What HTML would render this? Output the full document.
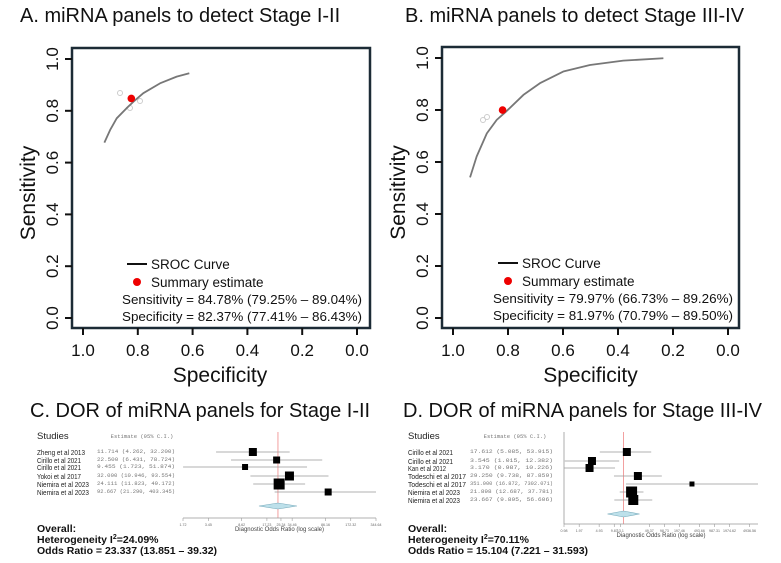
<!DOCTYPE html>
<html><head><meta charset="utf-8"><style>
body{margin:0;background:#fff}
svg{display:block;font-family:"Liberation Sans",sans-serif}
</style></head><body>
<svg id="fig" width="781" height="563" viewBox="0 0 781 563"></svg>
<script>
// ---- Data ----
const rocTicks = [1.0, 0.8, 0.6, 0.4, 0.2, 0.0];
const aSpec = [0.922, 0.901, 0.877, 0.841, 0.816, 0.780, 0.719, 0.658, 0.612];
const aSens = [0.677, 0.726, 0.771, 0.810, 0.835, 0.868, 0.906, 0.932, 0.945];
const aSummary = [0.8237, 0.8478];
const bSpec = [0.938, 0.914, 0.877, 0.841, 0.807, 0.744, 0.684, 0.599, 0.502, 0.381, 0.235];
const bSens = [0.541, 0.621, 0.710, 0.762, 0.794, 0.858, 0.903, 0.948, 0.973, 0.990, 0.999];
const bSummary = [0.8197, 0.7997];
const cStudies = ["Zheng et al 2013","Cirillo et al 2021","Cirillo et al 2021","Yokoi et al 2017","Niemira et al 2023","Niemira et al 2023"];
const cEst = [11.714, 22.5, 9.455, 32.0, 24.111, 92.667];
const cLo = [4.262, 6.431, 1.723, 10.946, 11.823, 21.29];
const cHi = [32.2, 78.724, 51.874, 93.554, 49.172, 403.345];
const cBox = [4, 3.5, 3, 4.5, 5.5, 3.5];
const cPool = [23.337, 13.851, 39.32];
const cTicks = ["1.72","3.45","8.62","17.23","25.34","34.46","86.16","172.32","344.64"];
const dStudies = ["Cirillo et al 2021","Cirillo et al 2021","Kan et al 2012","Todeschi et al 2017","Todeschi et al 2017","Niemira et al 2023","Niemira et al 2023"];
const dEst = [17.612, 3.545, 3.17, 29.25, 351.0, 21.898, 23.667];
const dLo = [5.085, 1.015, 0.987, 9.738, 16.872, 12.687, 9.895];
const dHi = [53.915, 12.382, 10.226, 87.859, 7302.071, 37.781, 56.606];
const dBox = [4, 4, 4, 4, 2.5, 5.5, 5];
const dPool = [15.104, 7.221, 31.593];
const dTicks = ["0.98","1.97","4.93","9.87","13.1","49.37","98.73","197.46","493.66","987.31","1974.62","4936.56"];

const NS="http://www.w3.org/2000/svg", svg=document.getElementById('fig');
function el(tag, attrs, parent, txt){const e=document.createElementNS(NS,tag);for(const k in attrs)e.setAttribute(k,attrs[k]);if(txt!==undefined)e.textContent=txt;(parent||svg).appendChild(e);return e;}

function roc(P){
  const g=el('g',{});
  
  
  const t=el('text',{x:P.tx,y:22,'font-size':20,fill:'#111'},g,P.title);
  
  
  const X=s=>P.x0+(1-s)*(P.x1-P.x0), Y=v=>P.y0-v*(P.y0-P.y1);
  const box=el('rect',{x:P.L,y:P.T,width:P.R-P.L,height:P.B-P.T,fill:'none',stroke:'#1c2b36','stroke-width':2.5},g);
  
  
  rocTicks.forEach(v=>{
    el('line',{x1:X(v),x2:X(v),y1:P.B,y2:P.B+7,stroke:'#111','stroke-width':2},g);
    const xl=el('text',{x:X(v),y:P.B+28,'font-size':17,'text-anchor':'middle',fill:'#111'},g,v.toFixed(1));
    
    
    el('line',{x1:P.L-7,x2:P.L,y1:Y(v),y2:Y(v),stroke:'#111','stroke-width':2},g);
    const yl=el('text',{x:0,y:0,'font-size':17,'text-anchor':'middle',fill:'#111',transform:`translate(${P.L-14},${Y(v)}) rotate(-90)`},g,v.toFixed(1));
    
    
  });
  const xt=el('text',{x:(P.x0+P.x1)/2,y:P.B+54,'font-size':21,'text-anchor':'middle',fill:'#111'},g,'Specificity');
  
  
  const yt=el('text',{x:0,y:0,'font-size':21,'text-anchor':'middle',fill:'#111',transform:`translate(${P.L-37},${(P.T+P.B)/2+5}) rotate(-90)`},g,'Sensitivity');
  
  
  P.ghost.forEach(p=>el('circle',{cx:p[0],cy:p[1],r:2.5,fill:'none',stroke:'#ccc','stroke-width':1},g));
  const pts=P.spec.map((s,i)=>X(s)+','+Y(P.sens[i])).join(' ');
  const c=el('polyline',{points:pts,fill:'none',stroke:'#777','stroke-width':1.8,'stroke-linejoin':'round'},g);
  
  
  const d=el('circle',{cx:X(P.sum[0]),cy:Y(P.sum[1]),r:3.8,fill:'#e00'},g);
  
  
  const lg=el('g',{},g);
  
  
  el('line',{x1:P.lx,x2:P.lx+20,y1:P.ly,y2:P.ly,stroke:'#111','stroke-width':2},lg);
  el('text',{x:P.lx+24,y:P.ly+5,'font-size':13.5,fill:'#111'},lg,'SROC Curve');
  el('circle',{cx:P.lx+10,cy:P.ly+18,r:4,fill:'#e00'},lg);
  el('text',{x:P.lx+24,y:P.ly+23,'font-size':13.5,fill:'#111'},lg,'Summary estimate');
  el('text',{x:P.lx-5,y:P.ly+40,'font-size':13,fill:'#111',textLength:240,lengthAdjust:'spacingAndGlyphs'},lg,P.t1);
  el('text',{x:P.lx-5,y:P.ly+57,'font-size':13,fill:'#111',textLength:240,lengthAdjust:'spacingAndGlyphs'},lg,P.t2);
}
roc({name:'panel-a-sroc',title:'A. miRNA panels to detect Stage I-II',tx:20,L:72,T:48,R:370,B:328,x0:83,x1:357,y0:318,y1:59,
  spec:aSpec,sens:aSens,sum:aSummary,ghost:[[120,93],[140,101],[130,108]],lx:127,ly:264,
  t1:'Sensitivity = 84.78% (79.25% – 89.04%)',t2:'Specificity = 82.37% (77.41% – 86.43%)'});
roc({name:'panel-b-sroc',title:'B. miRNA panels to detect Stage III-IV',tx:405,L:442,T:47,R:739,B:328,x0:453,x1:728,y0:318,y1:58,
  spec:bSpec,sens:bSens,sum:bSummary,ghost:[[483,120],[487,117]],lx:498,ly:263,
  t1:'Sensitivity = 79.97% (66.73% – 89.26%)',t2:'Specificity = 81.97% (70.79% – 89.50%)'});

function forest(F){
  const g=el('g',{});
  
  
  const t=el('text',{x:F.tx,y:417,'font-size':20,fill:'#111'},g,F.title);
  
  
  const lmin=Math.log(F.dom[0]),lmax=Math.log(F.dom[1]);
  const X=v=>F.ax0+(Math.log(v)-lmin)/(lmax-lmin)*(F.ax1-F.ax0);
  el('text',{x:F.nx,y:439,'font-size':9.5,fill:'#222'},g,'Studies');
  el('text',{x:F.ex+45,y:438,'font-size':5.5,fill:'#777','font-family':'Liberation Mono, monospace','text-anchor':'middle'},g,'Estimate (95% C.I.)');
  if(F.vline) el('line',{x1:F.ax0,x2:F.ax0,y1:432,y2:F.ay,stroke:'#999','stroke-width':0.8},g);
  el('line',{x1:X(F.pool[0]),x2:X(F.pool[0]),y1:432,y2:F.ay,stroke:'#e88','stroke-width':0.8},g);
  F.studies.forEach((s,i)=>{
    const y=F.rows[i];
    el('text',{x:F.nx,y:y+3,'font-size':7,fill:'#222',textLength:F.nw[i],lengthAdjust:'spacingAndGlyphs'},g,s);
    el('text',{x:F.ex,y:y+1,'font-size':5.5,fill:'#777','font-family':'Liberation Mono, monospace',textLength:F.ew,lengthAdjust:'spacingAndGlyphs'},g,
      F.est[i].toFixed(3)+' ('+F.lo[i].toFixed(3)+', '+F.hi[i].toFixed(3)+')');
    const lo=Math.max(X(F.lo[i]),F.ax0-8), hi=Math.min(X(F.hi[i]),F.ax1);
    const ln=el('line',{x1:lo,x2:hi,y1:y,y2:y,stroke:'#999','stroke-width':0.8},g);
    
    
    const b=F.box[i];
    const sq=el('rect',{x:X(F.est[i])-b,y:y-b,width:2*b,height:2*b,fill:'#000'},g);
    
    
  });
  const [p,l,h]=F.pool, dy=F.dy;
  const dm=el('polygon',{points:`${X(l)},${dy} ${X(p)},${dy-3} ${X(h)},${dy} ${X(p)},${dy+3}`,fill:'#bde0ea',stroke:'#7ab','stroke-width':0.6},g);
  
  
  el('line',{x1:F.ax0,x2:F.ax1,y1:F.ay,y2:F.ay,stroke:'#999','stroke-width':0.8},g);
  F.ticks.forEach((tk,i)=>{
    const x=X(parseFloat(tk));
    el('line',{x1:x,x2:x,y1:F.ay,y2:F.ay+3,stroke:'#999','stroke-width':0.6},g);
    el('text',{x:x,y:F.ay+8,'font-size':3.6,fill:'#666','text-anchor':'middle'},g,tk);
  });
  el('text',{x:(F.ax0+F.ax1)/2,y:F.ay+13,'font-size':6,fill:'#444','text-anchor':'middle'},g,'Diagnostic Odds Ratio (log scale)');
  const o=el('g',{'font-weight':'bold',fill:'#111','font-size':10.5},g);
  
  
  el('text',{x:F.nx,y:532},o,'Overall:');
  const h2=el('text',{x:F.nx,y:543},o,'Heterogeneity I');
  el('tspan',{'font-size':7,dy:-4},h2,'2');
  el('tspan',{dy:4},h2,'='+F.het);
  el('text',{x:F.nx,y:554},o,F.or);
}
forest({name:'panel-c-forest',title:'C. DOR of miRNA panels for Stage I-II',tx:30,nx:37,ex:97,ew:78,studies:cStudies,nw:[48,44,44,44,52,52],est:cEst,lo:cLo,hi:cHi,box:cBox,pool:cPool,ticks:cTicks,
  rows:[452,460,467,476,484,492],dom:[1.72,344.64],ax0:183,ax1:376,ay:518,dy:506,vline:false,het:'24.09%',or:'Odds Ratio = 23.337 (13.851 – 39.32)'});
forest({name:'panel-d-forest',title:'D. DOR of miRNA panels for Stage III-IV',tx:403,nx:408,ex:470,ew:83,studies:dStudies,nw:[45,45,38,58,58,52,52],est:dEst,lo:dLo,hi:dHi,box:dBox,pool:dPool,ticks:dTicks,
  rows:[452,461,468,476,484,492,500],dom:[0.98,7300],ax0:564,ax1:758,ay:524,dy:514,vline:true,het:'70.11%',or:'Odds Ratio = 15.104 (7.221 – 31.593)'});
</script>
</body></html>
